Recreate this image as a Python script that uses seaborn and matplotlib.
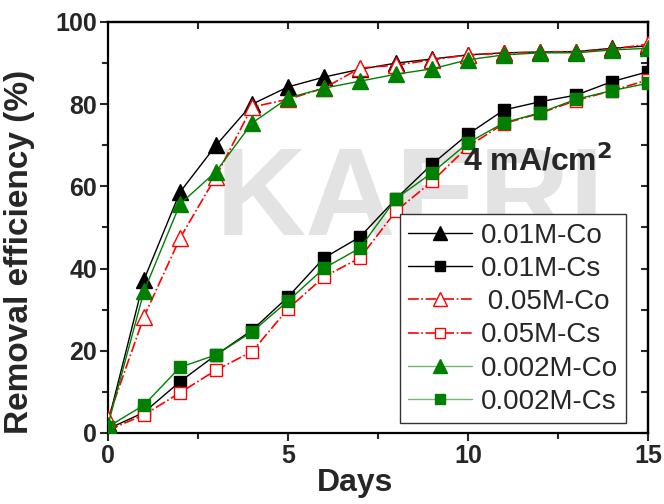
import matplotlib
matplotlib.use("Agg")
import matplotlib.pyplot as plt
import seaborn as sns
import numpy as np
import pandas as pd
from matplotlib.ticker import MultipleLocator

days = list(range(0, 16))

co_001 = [2.5, 37.3, 58.6, 70.0, 80.0, 84.2, 86.6, 88.5, 90.0, 91.0, 92.0, 92.5, 92.7, 92.8, 93.6, 94.2]
cs_001 = [1.0, 5.0, 12.5, 19.0, 25.0, 33.1, 42.6, 47.7, 57.0, 65.4, 72.7, 78.6, 80.6, 82.2, 85.5, 87.9]
co_005 = [3.5, 28.3, 47.4, 62.4, 79.3, 81.2, 83.9, 88.8, 89.5, 90.8, 92.0, 92.4, 92.7, 92.8, 93.4, 94.6]
cs_005 = [0.7, 4.4, 9.8, 15.3, 19.8, 30.2, 38.0, 42.6, 54.0, 61.2, 69.7, 75.3, 77.8, 80.9, 83.3, 85.9]
co_0002 = [2.0, 34.5, 55.7, 63.6, 75.4, 81.5, 83.9, 85.6, 87.3, 88.6, 90.8, 92.0, 92.5, 92.5, 93.2, 93.6]
cs_0002 = [1.5, 6.8, 16.0, 19.0, 24.6, 32.1, 40.1, 45.0, 57.0, 63.3, 70.6, 75.5, 77.9, 81.2, 83.3, 85.1]

labels = ["0.01M-Co", "0.01M-Cs", " 0.05M-Co", "0.05M-Cs", "0.002M-Co", "0.002M-Cs"]

sns.set_style("ticks")
plt.rcParams['font.family'] = ['Liberation Sans', 'DejaVu Sans']

fig = plt.figure(figsize=(6.64, 5.04), dpi=100)
ax = fig.add_axes([108/664, 1-433/504, 540/664, 411/504])

# watermark
ax.text(0.56, 0.56, "KAERI", transform=ax.transAxes, fontsize=90, fontweight='bold',
        color='#e3e3e3', ha='center', va='center', zorder=0)

red_dash = (5, 2.5, 1.2, 2.5)
series = [
    (co_001, dict(color='black', marker='^', markersize=11, markerfacecolor='black',
                  markeredgecolor='black', linestyle='-', linewidth=1.0)),
    (cs_001, dict(color='black', marker='s', markersize=8, markerfacecolor='black',
                  markeredgecolor='black', linestyle='-', linewidth=1.0)),
    (co_005, dict(color='red', marker='^', markersize=11, markerfacecolor='white',
                  markeredgecolor='red', linestyle='-.', dashes=red_dash, linewidth=1.2)),
    (cs_005, dict(color='red', marker='s', markersize=8, markerfacecolor='white',
                  markeredgecolor='red', linestyle='-.', dashes=red_dash, linewidth=1.2)),
    (co_0002, dict(color='#008000', marker='^', markersize=11, markerfacecolor='#008000',
                   markeredgecolor='#008000', linestyle='-', linewidth=1.0)),
    (cs_0002, dict(color='#008000', marker='s', markersize=8, markerfacecolor='#008000',
                   markeredgecolor='#008000', linestyle='-', linewidth=1.0)),
]

for (vals, kw), lab in zip(series, labels):
    sns.lineplot(x=days, y=vals, ax=ax, label=lab, zorder=3, markeredgewidth=1.0, **kw)

ax.set_xlim(0, 15)
ax.set_ylim(0, 100)
ax.xaxis.set_major_locator(MultipleLocator(5))
ax.xaxis.set_minor_locator(MultipleLocator(2.5))
ax.yaxis.set_major_locator(MultipleLocator(20))
ax.yaxis.set_minor_locator(MultipleLocator(10))
ax.tick_params(which='major', direction='out', length=6, width=1.5, labelsize=18, pad=2)
ax.tick_params(which='minor', direction='out', length=4, width=1.5)
for lbl in ax.get_xticklabels() + ax.get_yticklabels():
    lbl.set_fontweight('bold')

for sp in ax.spines.values():
    sp.set_visible(True)
    sp.set_linewidth(1.6)
    sp.set_color('black')

secx = ax.secondary_xaxis('top')
secx.xaxis.set_major_locator(MultipleLocator(5))
secx.xaxis.set_minor_locator(MultipleLocator(2.5))
secx.tick_params(which='both', direction='in', length=5, width=1.5, labeltop=False)
secx.spines['top'].set_linewidth(1.6)
secy = ax.secondary_yaxis('right')
secy.yaxis.set_major_locator(MultipleLocator(20))
secy.yaxis.set_minor_locator(MultipleLocator(10))
secy.tick_params(which='both', direction='in', length=5, width=1.5, labelright=False)
secy.spines['right'].set_linewidth(1.6)

ax.set_xlabel("Days", fontsize=23, fontweight='bold')
ax.xaxis.set_label_coords(0.457, -0.085)
ax.set_ylabel("Removal efficiency (%)", fontsize=24, fontweight='bold')
ax.yaxis.set_label_coords(-0.135, 0.44)

ax.text(0.796, 0.662, "4 mA/cm$^\\mathbf{2}$", transform=ax.transAxes, fontsize=23,
        fontweight='bold', ha='center', va='center', zorder=4)

leg = ax.legend(loc='lower right', bbox_to_anchor=(0.959, 0.024), fontsize=20,
                frameon=True, fancybox=False, handlelength=2.3, labelspacing=0.26,
                borderpad=0.3, handletextpad=0.3, borderaxespad=0, markerscale=0.9)
leg.get_frame().set_edgecolor('#333333')
leg.get_frame().set_linewidth(1.0)
leg.get_frame().set_alpha(1)
leg.set_zorder(5)
for ln in leg.get_lines()[4:]:
    ln.set_color('#6fb86f')

fig.savefig("out.png", dpi=100)
